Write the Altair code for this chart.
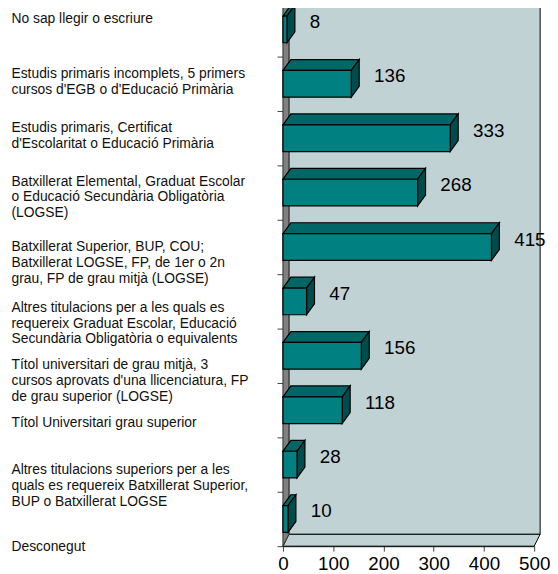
import json
import altair as alt
import pandas as pd

# ---------------- data ----------------
categories = [
    "No sap llegir o escriure",
    "Estudis primaris incomplets, 5 primers|cursos d'EGB o d'Educació Primària",
    "Estudis primaris, Certificat|d'Escolaritat o Educació Primària",
    "Batxillerat Elemental, Graduat Escolar|o Educació Secundària Obligatòria|(LOGSE)",
    "Batxillerat Superior, BUP, COU;|Batxillerat LOGSE, FP, de 1er o 2n|grau, FP de grau mitjà (LOGSE)",
    "Altres titulacions per a les quals es|requereix Graduat Escolar, Educació|Secundària Obligatòria o equivalents",
    "Títol universitari de grau mitjà, 3|cursos aprovats d'una llicenciatura, FP|de grau superior (LOGSE)",
    "Títol Universitari grau superior",
    "Altres titulacions superiors per a les|quals es requereix Batxillerat Superior,|BUP o Batxillerat LOGSE",
    "Desconegut",
]
values = [8, 136, 333, 268, 415, 47, 156, 118, 28, 10]
x_ticks = [0, 100, 200, 300, 400, 500]

# ---------------- layout / style ----------------
W = 254            # plot width (px) for 0..500
HGT = 541          # plot height (px)
BAND = 55          # px per category
X_MAX = 500
UX = X_MAX / W     # data units per px
BAR_DX = 8 * UX    # bar depth (x)
BAR_DY = 11 / BAND # bar depth (y)
HALF = 13.5 / BAND # half thickness of the bar front
WALL_DX = 6 * UX
FLOOR_BACK = 9.5 - 12 / BAND
Y_DOMAIN = [-0.5, 9.5]
Y_RANGE = [-9, HGT]
LINE_H = 16
# vertical nudge (px) of each label block centre relative to its band centre
label_nudge = [-10.5, -2, -2.5, 4.5, 15.5, 22, 25, 13, 21.5, 27.5]

WALL = "#C0D2D4"
SIDEWALL = "#808080"
FRONT = "#008080"
TOP = "#006666"
SIDE = "#004C4C"
NUMFONT = "Liberation Sans"
TXTFONT = "Liberation Sans"

df = pd.DataFrame({"cat": categories, "val": values, "idx": list(range(len(values)))})
frame = pd.DataFrame({"k": [0, 1, 2, 3]})

xs = alt.Scale(domain=[0, X_MAX], nice=False, zero=False)
ys = alt.Scale(domain=Y_DOMAIN, range=Y_RANGE, nice=False, zero=False)
xaxis = alt.Axis(values=x_ticks, title=None, grid=False, domainColor="black", domainWidth=1,
                 tickColor="#444", tickSize=5, labelFont=NUMFONT, labelFontSize=19,
                 labelColor="black", labelPadding=4, labelFlush=False)


def X(f):
    return alt.X(f, type="quantitative", scale=xs, axis=xaxis, stack=None)


def Y(f):
    return alt.Y(f, type="quantitative", scale=ys, axis=None, stack=None)


# back wall
wall = alt.Chart(frame).transform_filter("datum.k == 0").transform_calculate(
    x0=f"{WALL_DX}", x1=f"{X_MAX + WALL_DX}", y0="-1.5", y1=f"{FLOOR_BACK}"
).mark_rect(fill=WALL, stroke="black", strokeWidth=1).encode(
    x=X("x0"), x2="x1:Q", y=Y("y0"), y2="y1:Q")

# floor
floor = alt.Chart(frame).transform_calculate(
    x=f"datum.k==0 ? 0 : datum.k==1 ? {WALL_DX} : datum.k==2 ? {X_MAX} : {X_MAX + WALL_DX}",
    lo=f"datum.k==3 ? {FLOOR_BACK} : 9.5",
    hi=f"datum.k==0 ? 9.5 : {FLOOR_BACK}",
).mark_area(fill=WALL, stroke="black", strokeWidth=1, opacity=1).encode(
    x=X("x"), y=Y("lo"), y2="hi:Q")

# left wall
lwall = alt.Chart(frame).transform_filter("datum.k < 2").transform_calculate(
    x=f"datum.k==0 ? 0 : {WALL_DX}",
    lo=f"datum.k==0 ? 9.5 : {FLOOR_BACK}",
    hi="-1.5",
).mark_area(fill=SIDEWALL, stroke="#333", strokeWidth=1, opacity=1).encode(
    x=X("x"), y=Y("lo"), y2="hi:Q")

# bar top faces
top = alt.Chart(df).transform_calculate(k="[0,1,2,3]").transform_flatten(["k"]).transform_calculate(
    x=f"datum.k==0 ? 0 : datum.k==1 ? min(datum.val,{BAR_DX}) : datum.k==2 ? max(datum.val,{BAR_DX}) : datum.val+{BAR_DX}"
).transform_calculate(
    lo=f"datum.idx - {HALF} - {BAR_DY}*clamp((datum.x - datum.val)/{BAR_DX}, 0, 1)",
    hi=f"datum.idx - {HALF} - {BAR_DY}*clamp(datum.x/{BAR_DX}, 0, 1)",
).mark_area(fill=TOP, stroke="black", strokeWidth=1.2, opacity=1).encode(
    x=X("x"), y=Y("lo"), y2="hi:Q", detail="cat:N")

# bar side faces
side = alt.Chart(df).transform_calculate(k="[0,1,2,3]").transform_flatten(["k"]).transform_calculate(
    y=f"datum.k==0 ? datum.idx-{HALF}-{BAR_DY} : datum.k==1 ? datum.idx-{HALF} : datum.k==2 ? datum.idx+{HALF}-{BAR_DY} : datum.idx+{HALF}"
).transform_calculate(
    lx=f"datum.val + {BAR_DX}*clamp((datum.idx-{HALF}-datum.y)/{BAR_DY}, 0, 1)",
    rx=f"datum.val + {BAR_DX}*clamp((datum.idx+{HALF}-datum.y)/{BAR_DY}, 0, 1)",
).mark_area(orient="horizontal", fill=SIDE, stroke="black", strokeWidth=1.2, opacity=1).encode(
    y=Y("y"), x=X("lx"), x2="rx:Q", detail="cat:N")

# bar fronts
front = alt.Chart(df).transform_calculate(
    x0="0", y0=f"datum.idx-{HALF}", y1=f"datum.idx+{HALF}"
).mark_rect(fill=FRONT, stroke="black", strokeWidth=1.2).encode(
    x=X("x0"), x2="val:Q", y=Y("y0"), y2="y1:Q")

# value labels
vals = alt.Chart(df).mark_text(align="left", baseline="middle", dx=23, dy=-7.5,
                                font=NUMFONT, fontSize=19, color="black").encode(
    x=X("val"), y=Y("idx"), text="val:Q")

plot = alt.layer(wall, floor, lwall, top, side, front, vals)

# category axis (band scale) with labels; multi-line labels start at the anchor,
# so shift each block up by half its extra lines
cond = []
for c, n in zip(categories, label_nudge):
    lines = c.count("|") + 1
    cond.append({"test": "datum.value === " + json.dumps(c),
                 "value": n - (lines - 1) * LINE_H / 2})
yaxis = alt.Axis(title=None, orient="left", tickBand="extent", tickSize=6, tickColor="#444",
                 domainColor="black", domainWidth=1,
                 labelExpr="split(datum.label, '|')", labelAlign="left", labelBaseline="middle",
                 labelPadding=269, labelFont=TXTFONT, labelFontSize=14, labelColor="#111",
                 labelLineHeight=LINE_H, labelLimit=300,
                 labelOffset={"condition": cond, "value": 0})
axis_layer = alt.Chart(df).mark_point(opacity=0).encode(
    y=alt.Y("cat:N", sort=categories,
            scale=alt.Scale(range=Y_RANGE, paddingInner=0, paddingOuter=0), axis=yaxis))

chart = alt.layer(plot, axis_layer).resolve_scale(y="independent").properties(
    width=W, height=HGT,
    padding={"left": 278, "top": 0, "right": 16, "bottom": 25},
    autosize=alt.AutoSizeParams(type="none"),
).configure_view(stroke=None).configure(background="white")

chart.save("out.html", embed_options={"renderer": "svg", "actions": False})
